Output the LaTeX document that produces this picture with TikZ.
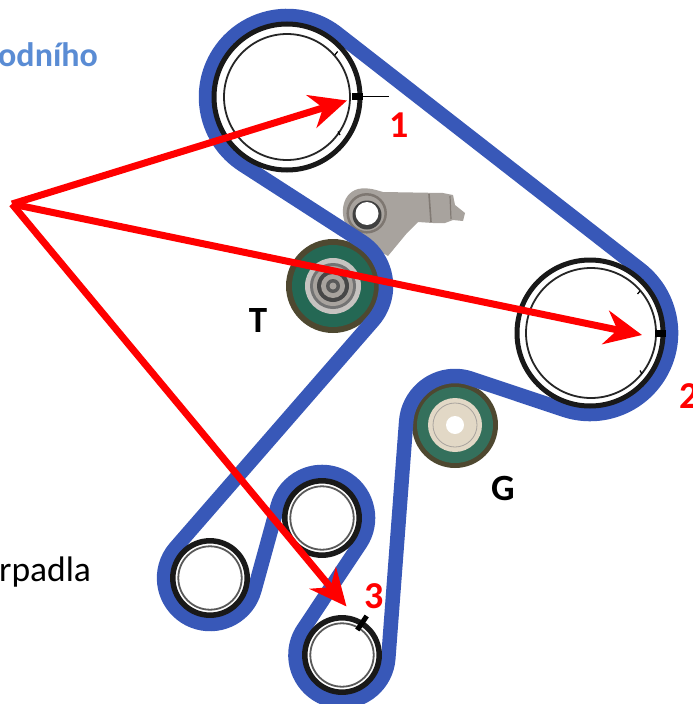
\documentclass[tikz,border=0pt]{standalone}
\usepackage{fontspec}
\setmainfont{Carlito}
\usetikzlibrary{arrows.meta}
\definecolor{beltblue}{RGB}{56,88,184}
\definecolor{arrowred}{RGB}{255,0,0}
\definecolor{headblue}{RGB}{90,140,212}
\definecolor{armgrey}{RGB}{168,163,158}
\definecolor{armdark}{RGB}{112,104,98}
\definecolor{olive}{RGB}{78,72,48}
\definecolor{tgreen}{RGB}{36,104,84}
\definecolor{ggreen}{RGB}{52,112,92}
\definecolor{cream}{RGB}{226,216,198}
\tikzset{
  belt/.style={draw=beltblue,line width=14.5pt,line join=round},
  bigring/.style={draw=black!90,line width=5pt},
  smallring/.style={draw=black!90,line width=5.5pt},
  thinring/.style={draw=black!85,line width=1.8pt},
  redarrow/.style={draw=arrowred,line width=7pt,-{Stealth[length=37pt,width=34pt,inset=12pt]}},
  redlabel/.style={text=arrowred,font=\fontsize{38}{38}\selectfont\bfseries},
  blacklabel/.style={text=black,font=\fontsize{37}{37}\selectfont\bfseries},
  tick/.style={draw=black,line width=1.2pt}
}
\begin{document}
\begin{tikzpicture}[x=1pt,y=1pt]
\useasboundingbox (0,0) rectangle (693,-704);
% coordinates
\coordinate (C1) at (287,-97);
\coordinate (C2) at (590,-333);
\coordinate (CG) at (455,-425);
\coordinate (CT) at (333,-286);
\coordinate (CU) at (322,-518);
\coordinate (CL) at (210,-578);
\coordinate (CB) at (342,-655);
\coordinate (src) at (12,-204);
\coordinate (tip1) at (347,-100.5);
\coordinate (tip2) at (642,-335);
\coordinate (tip3) at (346.5,-606.5);
% tensioner arm
\fill[armgrey] (358,-189) .. controls (368,-187) and (376,-190) .. (383,-192)
  -- (443,-193) -- (453,-195) -- (455,-205) -- (465,-213) -- (463,-221) -- (453,-220)
  -- (445,-223) -- (433,-223) -- (418,-222) -- (407,-233) -- (388,-256) -- (360,-240)
  -- (348,-228) .. controls (340,-218) and (340,-194) .. (358,-189) -- cycle;
\draw[armdark!70!armgrey,line width=1.6pt] (429,-194) -- (431,-222);
\draw[armdark!70!armgrey,line width=1.2pt] (450,-196) -- (451,-219);
\draw[armdark!75!armgrey,line width=2.5pt] (366.7,-213.3) circle[radius=19];
\fill[black!75] (367,-215) circle[radius=14.5];
\fill[white] (367,-213.5) circle[radius=11.5];
% idlers
\node[circle,fill=olive,minimum size=94pt,inner sep=0pt] (T) at (CT) {};
\fill[tgreen] (CT) circle[radius=41];
\fill[armgrey!65!white] (CT) circle[radius=28];
\fill[black!55] (CT) circle[radius=23];
\fill[armgrey] (CT) circle[radius=20];
\fill[black!72] (CT) circle[radius=16];
\fill[armgrey] (CT) circle[radius=12];
\fill[black!65] (CT) circle[radius=7];
\fill[armgrey] (CT) circle[radius=3.5];
\node[circle,fill=olive,minimum size=86pt,inner sep=0pt] (G) at (CG) {};
\fill[ggreen] (CG) circle[radius=38];
\fill[cream] (CG) circle[radius=27];
\draw[armgrey,line width=.8pt] (CG) circle[radius=22];
\fill[white] (CG) circle[radius=9];
% belt
\draw[belt] (243.2,-165.1) arc[start angle=237.25,end angle=52.1,radius=81]
  -- (639.8,-269.1) arc[start angle=52.1,end angle=-108.4,radius=81]
  -- (470.5,-378.5) arc[start angle=71.6,end angle=175.7,radius=49]
  -- (388.3,-658.5) arc[start angle=-4.3,end angle=-213.7,radius=46.5]
  -- (360.3,-543.5) arc[start angle=-33.7,end angle=164.5,radius=46]
  -- (254.4,-590.3) arc[start angle=-15.5,end angle=-221,radius=46]
  -- (373,-320.8) arc[start angle=-41,end angle=57.25,radius=53]
  -- cycle;
% pulleys
\node[circle,fill=white,bigring,minimum size=146pt,inner sep=0pt] (P1) at (C1) {};
\draw[thinring] (C1) circle[radius=63];
\node[circle,fill=white,bigring,minimum size=146pt,inner sep=0pt] (P2) at (C2) {};
\draw[thinring] (591,-333) circle[radius=65];
\node[circle,fill=white,smallring,minimum size=74.4pt,inner sep=0pt] (PU) at (CU) {};
\draw[thinring,draw=black!65] (CU) circle[radius=31.7];
\node[circle,fill=white,smallring,minimum size=74.4pt,inner sep=0pt] (PL) at (CL) {};
\draw[thinring,draw=black!65] (CL) circle[radius=31.7];
\node[circle,fill=white,smallring,minimum size=74.4pt,inner sep=0pt] (PB) at (CB) {};
\draw[thinring,draw=black!65] (CB) circle[radius=31.7];
% timing marks
\fill[black] (351.7,-93) rectangle (363,-99.5);
\draw[black,line width=1.8pt] (362,-96.5) -- (389,-96.5);
\draw[tick] (334.8,-55) -- (337.6,-51.5);
\draw[tick] (338,-131.5) -- (340,-135);
\fill[black] (655,-330) rectangle (666,-337);
\draw[tick] (637.5,-294) -- (640,-291);
\draw[tick] (640,-370.5) -- (642,-374);
\draw[black,line width=5pt] (357.3,-630) -- (366.7,-616);
% red arrows
\draw[redarrow] (src) -- (tip1);
\draw[redarrow] (src) -- (tip2);
\draw[redarrow] (src) -- (tip3);
% labels
\node[redlabel] (n1) at (399,-125) {1};
\node[redlabel] (n2) at (689,-396) {2};
\node[redlabel] (n3) at (374,-596) {3};
\node[blacklabel] (lT) at (258,-320) {T};
\node[blacklabel] (lG) at (503,-488) {G};
\node[anchor=base west,inner sep=0pt,text=headblue,font=\fontsize{34}{34}\selectfont\bfseries] (hd) at (-2,-66) {odního};
\node[anchor=base west,inner sep=0pt,text=black,font=\fontsize{35.5}{35.5}\selectfont] (cp) at (-1,-581) {rpadla};
\end{tikzpicture}
\end{document}
